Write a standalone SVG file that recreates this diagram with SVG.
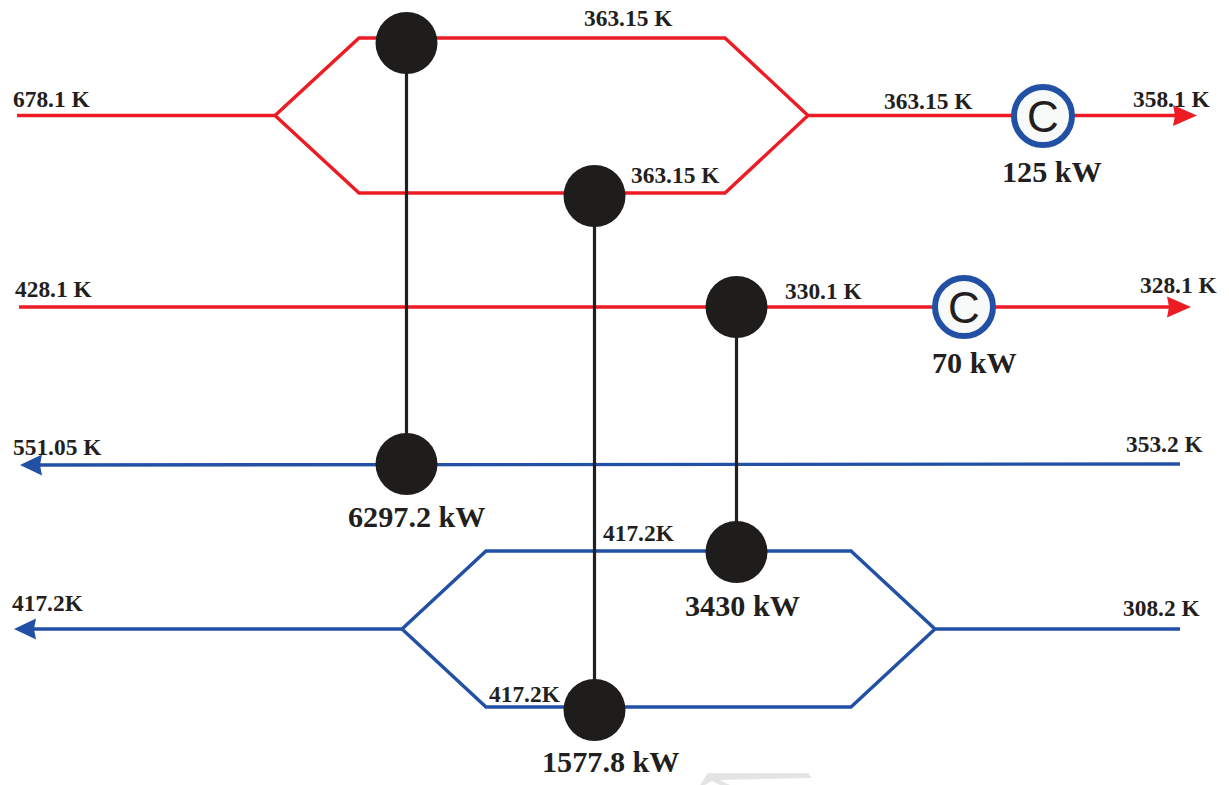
<svg xmlns="http://www.w3.org/2000/svg" width="1229" height="785" viewBox="0 0 1229 785">
<style>
text{font-family:"Liberation Serif","Times New Roman",serif;font-weight:bold;fill:#231f20}
.s{font-size:23.4px}
.b{font-size:30.2px}
.r,.u,.k{fill:none;stroke-linejoin:miter}
.r{stroke:#ed1c24;stroke-width:3.4}
.u{stroke:#2150a5;stroke-width:3.4}
.k{stroke:#231f20;stroke-width:3.2}
.hx{fill:#1f1d1b}
.c{fill:#f8fafa;stroke:#2150a5;stroke-width:6}
.cl{font-family:"Liberation Sans",Arial,sans-serif;font-weight:normal;font-size:44px;text-anchor:middle}
</style>
<path id="mark" fill="#e4e4e4" d="M700 785L708 773H808L812 778L720 780L730 785H720L712 781L705 785Z"/>
<g id="connectors">
<path class="r" d="M17 115.500H275L359 38H725L808 115.500H1014M275 115.500L359 193H725L808 115.500"/>
<path class="r" d="M1074 115.500H1176"/>
<path fill="#ed1c24" d="M1197 115.500L1173 105L1175 115.500L1173 126Z"/>
<path class="r" d="M19 307H935M995 307H1170"/>
<path fill="#ed1c24" d="M1191 307L1167 296.500L1169 307L1167 317.500Z"/>
<path class="u" d="M1180 464L40 465"/>
<path fill="#2150a5" d="M20 465L42 454.500L40 465L42 475.500Z"/>
<path class="u" d="M1180 629H935L851 551H486L402 629H34M935 629L851 707H486L402 629"/>
<path fill="#2150a5" d="M14 629L36 618.500L34 629L36 639.500Z"/>
<path class="k" d="M406.500 43V464M594.500 196V710M736.500 307V552"/>
</g>
<g id="hx1"><circle class="hx" cx="406.500" cy="43" r="31"/></g>
<g id="hx2"><circle class="hx" cx="594.500" cy="196" r="31"/></g>
<g id="hx3"><circle class="hx" cx="736.500" cy="307" r="31"/></g>
<g id="hx4"><circle class="hx" cx="406.500" cy="464" r="31"/><text class="b" x="348" y="527">6297.2 kW</text></g>
<g id="hx5"><circle class="hx" cx="736.500" cy="552" r="31"/><text class="b" x="685" y="616">3430 kW</text></g>
<g id="hx6"><circle class="hx" cx="594.500" cy="710" r="31"/><text class="b" x="542" y="772">1577.8 kW</text></g>
<g id="cooler1"><circle class="c" cx="1043" cy="116" r="29"/><text class="cl" x="1043" y="132">C</text><text class="b" x="1002" y="182">125 kW</text></g>
<g id="cooler2"><circle class="c" cx="964" cy="307" r="29"/><text class="cl" x="964" y="323">C</text><text class="b" x="932" y="373">70 kW</text></g>
<g id="labels">
<text class="s" x="13" y="107">678.1 K</text>
<text class="s" x="584" y="26">363.15 K</text>
<text class="s" x="884" y="109">363.15 K</text>
<text class="s" x="1133" y="107">358.1 K</text>
<text class="s" x="631" y="183">363.15 K</text>
<text class="s" x="15" y="297">428.1 K</text>
<text class="s" x="785" y="299">330.1 K</text>
<text class="s" x="1140" y="293">328.1 K</text>
<text class="s" x="13" y="455">551.05 K</text>
<text class="s" x="1126" y="452">353.2 K</text>
<text class="s" x="603" y="541">417.2K</text>
<text class="s" x="12" y="611">417.2K</text>
<text class="s" x="1123" y="616">308.2 K</text>
<text class="s" x="489" y="702">417.2K</text>
</g>
</svg>
